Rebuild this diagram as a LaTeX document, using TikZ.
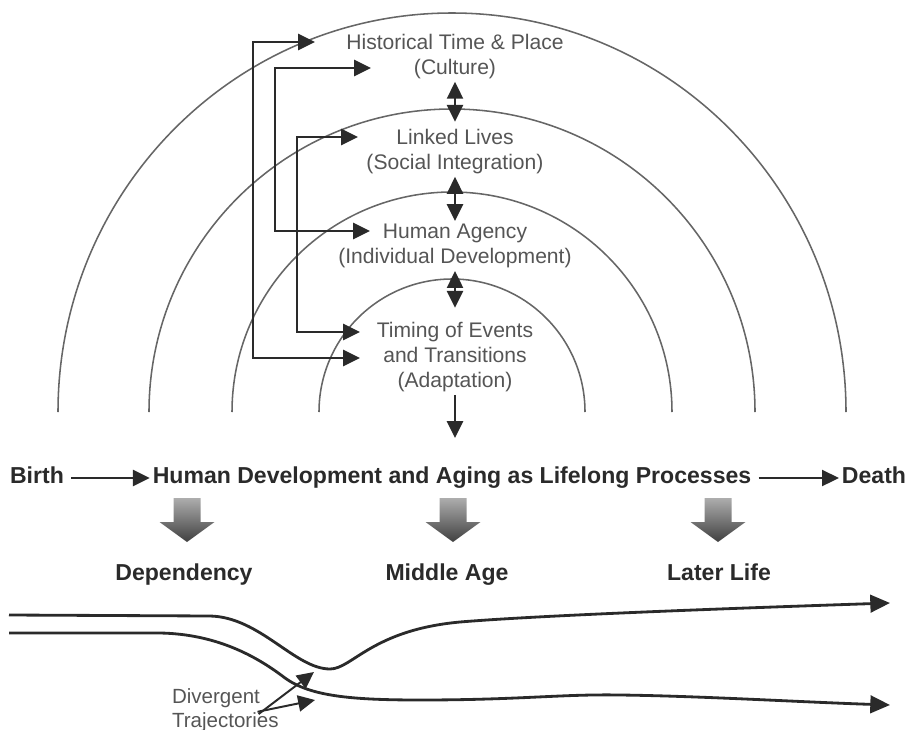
\documentclass[tikz,border=0pt]{standalone}
\usepackage{fontspec}
\setmainfont{Liberation Sans}
\usetikzlibrary{arrows.meta}
\definecolor{ink}{HTML}{2A2A2A}
\definecolor{labelgray}{HTML}{555555}
\definecolor{ringgray}{HTML}{666666}
\begin{document}
\begin{tikzpicture}[x=0.025cm,y=-0.025cm,
  ring/.style={ringgray, line width=1.1pt},
  lbl/.style={labelgray, font=\fontsize{15}{17.8}\selectfont, align=center, inner sep=2pt, anchor=north},
  sidelbl/.style={labelgray, font=\fontsize{14.6}{17}\selectfont, inner sep=2pt, anchor=west},
  stage/.style={ink, font=\fontsize{16.4}{19}\selectfont\bfseries, inner sep=2pt, text height=0.72em, text depth=0pt},
  conn/.style={ink, line width=1.4pt},
  traj/.style={ink, line width=2pt},
  tip/.style={-{Triangle[length=12pt,width=11.5pt]}},
  both/.style={{Triangle[length=12pt,width=11.5pt]}-{Triangle[length=12pt,width=11.5pt]}},
  bigtip/.style={-{Triangle[length=14pt,width=12.5pt]}}]
\useasboundingbox (0,0) rectangle (909,730);
\foreach \r/\ry in {394/399,303/303,220/220,133/133}
  \draw[ring] (452-\r,412) arc[start angle=180, end angle=360, x radius=\r, y radius=\ry];
\node[lbl] (lvl0) at (455,31) {Historical Time \& Place\\(Culture)};
\node[lbl] (lvl1) at (455,126) {Linked Lives\\(Social Integration)};
\node[lbl] (lvl2) at (455,221) {Human Agency\\(Individual Development)};
\node[lbl] (lvl3) at (455,319) {Timing of Events\\and Transitions\\(Adaptation)};
\draw[conn,both,shorten >=3pt] (lvl0) -- (lvl1);
\draw[conn,both] (lvl1) -- (lvl2);
\draw[conn,both,shorten >=8pt] (lvl2) -- (lvl3);
\coordinate (flow) at (455,438);
\draw[conn,tip] (lvl3) -- (flow);
\coordinate (hist0) at (315,42);
\coordinate (hist1) at (371,68);
\coordinate (link0) at (358,137);
\coordinate (agen0) at (370,231);
\coordinate (time0) at (360,332);
\coordinate (time1) at (360,358);
\draw[conn,both] (time1) -- ++(-107,0) |- (hist0);
\draw[conn,both] (agen0) -- ++(-95,0) |- (hist1);
\draw[conn,both] (time0) -- ++(-63,0) |- (link0);
\node[stage] (birth) at (37,478) {Birth};
\node[stage] (dev) at (452,478) {Human Development and Aging as Lifelong Processes};
\node[stage] (death) at (874,478) {Death};
\draw[conn,tip,shorten <=3pt] (birth) -- (dev);
\draw[conn,tip,shorten <=3pt] (dev) -- (death);
\foreach \x in {187,453,718}
  \shade[top color=black!32, bottom color=black!75] (\x-13.5,498) -- (\x+13.5,498) -- (\x+13.5,522) -- (\x+27.5,522) -- (\x,542) -- (\x-27.5,522) -- (\x-13.5,522) -- cycle;
\node[stage] (dep) at (184,575) {Dependency};
\node[stage] (mid) at (447,575) {Middle Age};
\node[stage] (later) at (719,575) {Later Life};
\coordinate (up0) at (9,615);
\coordinate (up1) at (890,603);
\coordinate (lo0) at (9,633);
\coordinate (lo1) at (890,705);
\draw[traj,bigtip] (up0) -- (210,616) .. controls (260,617) and (295,669) .. (330,669) .. controls (352,669) and (372,630) .. (460,622) .. controls (520,617) and (650,611) .. (up1);
\draw[traj,bigtip] (lo0) -- (160,633) .. controls (215,634) and (255,655) .. (285,678) .. controls (310,696) and (350,700) .. (420,700) .. controls (520,700) and (560,694) .. (620,695) .. controls (700,696) and (800,702) .. (lo1);
\node[sidelbl] (div0) at (169,698) {Divergent};
\node[sidelbl] (div1) at (169,722) {Trajectories};
\coordinate (divU) at (314,672);
\coordinate (divL) at (315,700);
\draw[conn,tip,shorten <=-4pt] (div0.south east) -- (divU);
\draw[conn,tip,shorten <=-4pt] (div0.south east) -- (divL);
\end{tikzpicture}
\end{document}
